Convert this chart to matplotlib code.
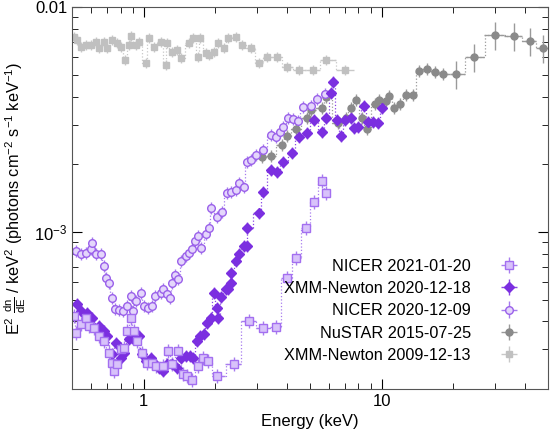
import matplotlib
matplotlib.use('Agg')
import numpy as np
import matplotlib.pyplot as plt
from matplotlib.ticker import NullFormatter, FixedLocator, LogLocator

plt.rcParams['font.family'] = ['Liberation Sans', 'DejaVu Sans']
plt.rcParams['mathtext.fontset'] = 'custom'
plt.rcParams['mathtext.rm'] = 'Liberation Sans'
plt.rcParams['mathtext.it'] = 'Liberation Sans'

# XMM-Newton 2009-12-13
xmm09_e = [0.508, 0.523, 0.544, 0.571, 0.599, 0.629, 0.647, 0.68, 0.699, 0.734, 0.77, 0.80, 0.832,
           0.865, 0.882, 0.925, 0.953, 1.02, 1.05, 1.10, 1.18, 1.24, 1.25, 1.31, 1.38, 1.44, 1.55,
           1.62, 1.70, 1.73, 1.82, 1.88, 1.97, 2.06, 2.17, 2.27, 2.44, 2.58, 2.82, 3.04, 3.29,
           3.62, 3.99, 4.52, 5.13, 5.87, 7.0]
xmm09_f = [7.36e-3, 7.13e-3, 6.64e-3, 6.78e-3, 6.78e-3, 6.98e-3, 6.57e-3, 6.98e-3, 6.57e-3, 7.13e-3,
           6.91e-3, 6.64e-3, 5.81e-3, 6.78e-3, 7.43e-3, 6.78e-3, 6.98e-3, 5.64e-3, 7.28e-3, 6.64e-3,
           6.98e-3, 5.52e-3, 6.91e-3, 6.31e-3, 6.44e-3, 5.93e-3, 6.91e-3, 7.28e-3, 6.0e-3, 7.28e-3,
           6.25e-3, 6.12e-3, 6.31e-3, 6.91e-3, 6.57e-3, 7.28e-3, 7.36e-3, 6.78e-3, 6.57e-3, 5.64e-3,
           6.0e-3, 6.0e-3, 5.41e-3, 5.25e-3, 5.25e-3, 5.81e-3, 5.25e-3]

# NuSTAR 2015-07-25
nu_e = [3.13, 3.42, 3.8, 3.99, 4.35, 4.84, 5.03, 5.6, 5.87, 6.53, 7.06, 7.42, 7.78, 8.24, 8.65,
        9.35, 9.8, 10.4, 10.8, 11.3, 12.0, 12.7, 13.6, 14.4, 15.5, 16.7, 18.2, 20.5, 24.4, 29.9,
        35.9, 41.9, 47.5]
nu_f = [2.15e-3, 2.18e-3, 2.44e-3, 2.67e-3, 2.87e-3, 3.21e-3, 3.48e-3, 3.56e-3, 3.98e-3, 3.05e-3,
        3.21e-3, 3.56e-3, 3.86e-3, 3.21e-3, 2.87e-3, 3.71e-3, 3.86e-3, 3.82e-3, 4.02e-3, 3.56e-3,
        3.71e-3, 4.06e-3, 4.06e-3, 5.2e-3, 5.3e-3, 5.14e-3, 5.04e-3, 5.04e-3, 6.0e-3, 7.51e-3,
        7.43e-3, 7.06e-3, 6.57e-3]

# NICER 2020-12-09
n09_e = [0.518, 0.544, 0.571, 0.599, 0.604, 0.629, 0.66, 0.68, 0.693, 0.713, 0.734, 0.755, 0.785,
         0.816, 0.849, 0.882, 0.899, 0.925, 0.971, 1.0, 1.04, 1.08, 1.12, 1.18, 1.21, 1.25, 1.29,
         1.31, 1.36, 1.40, 1.44, 1.50, 1.55, 1.59, 1.65, 1.70, 1.75, 1.82, 1.88, 1.91, 2.03, 2.13,
         2.23, 2.34, 2.44, 2.51, 2.63, 2.71, 2.82, 2.96, 3.16, 3.42, 3.59, 3.76, 3.87, 4.03, 4.23,
         4.44, 4.66, 5.03, 5.33, 5.77]
n09_f = [8.24e-4, 7.98e-4, 8.07e-4, 8.4e-4, 8.94e-4, 7.98e-4, 7.98e-4, 7.06e-4, 6.25e-4, 5.93e-4,
         5.09e-4, 4.55e-4, 4.5e-4, 4.46e-4, 4.69e-4, 5.2e-4, 4.46e-4, 4.93e-4, 5.36e-4, 4.69e-4,
         4.6e-4, 4.69e-4, 5.2e-4, 5.36e-4, 5.58e-4, 5.3e-4, 5.09e-4, 5.93e-4, 6.44e-4, 6.18e-4,
         7.43e-4, 7.82e-4, 8.07e-4, 8.4e-4, 9.12e-4, 9.6e-4, 8.49e-4, 9.8e-4, 1.04e-3, 1.28e-3,
         1.17e-3, 1.23e-3, 1.49e-3, 1.51e-3, 1.54e-3, 1.65e-3, 1.58e-3, 2.05e-3, 2.09e-3, 2.2e-3,
         2.31e-3, 2.7e-3, 2.64e-3, 2.78e-3, 2.93e-3, 3.21e-3, 3.18e-3, 3.11e-3, 3.59e-3, 3.63e-3,
         3.9e-3, 4.1e-3]

# XMM-Newton 2020-12-18
x20_e = [0.523, 0.544, 0.576, 0.604, 0.647, 0.68, 0.699, 0.734, 0.763, 0.80, 0.824, 0.865, 0.89,
         0.953, 0.98, 1.02, 1.07, 1.10, 1.16, 1.21, 1.25, 1.31, 1.38, 1.44, 1.50, 1.57, 1.62, 1.67,
         1.73, 1.79, 1.84, 1.91, 1.97, 2.03, 2.06, 2.11, 2.21, 2.27, 2.34, 2.34, 2.44, 2.51, 2.63,
         2.71, 2.71, 3.04, 3.19, 3.42, 3.62, 3.87, 4.19, 4.48, 4.84, 5.18, 5.6, 5.87, 6.16, 6.28,
         6.47, 6.73, 7.0, 7.42, 7.63, 8.0, 8.4, 8.8, 9.25, 9.7, 10.0]
x20_f = [4.79e-4, 4.46e-4, 4.37e-4, 4.15e-4, 3.82e-4, 3.63e-4, 3.45e-4, 2.87e-4, 3.21e-4, 2.75e-4,
         2.9e-4, 3.34e-4, 3.38e-4, 3.45e-4, 2.87e-4, 2.67e-4, 2.75e-4, 2.62e-4, 2.49e-4, 2.41e-4,
         2.59e-4, 2.59e-4, 2.49e-4, 2.75e-4, 2.81e-4, 2.81e-4, 2.75e-4, 3.28e-4, 3.45e-4, 3.52e-4,
         3.94e-4, 4.15e-4, 5.36e-4, 4.6e-4, 4.15e-4, 5.14e-4, 5.58e-4, 5.58e-4, 5.93e-4, 6.58e-4,
         7.43e-4, 7.98e-4, 8.67e-4, 8.67e-4, 1.04e-3, 1.21e-3, 1.51e-3, 1.89e-3, 1.85e-3, 2.05e-3,
         2.24e-3, 2.64e-3, 2.75e-3, 3.15e-3, 2.78e-3, 3.21e-3, 4.15e-3, 4.64e-3, 3.15e-3, 2.67e-3,
         3.15e-3, 3.21e-3, 2.9e-3, 2.93e-3, 3.63e-3, 3.08e-3, 3.08e-3, 3.05e-3, 3.56e-3]

# NICER 2021-01-20
n21_e = [0.508, 0.518, 0.544, 0.571, 0.588, 0.617, 0.647, 0.68, 0.713, 0.734, 0.748, 0.77, 0.80,
         0.824, 0.849, 0.882, 0.908, 0.935, 0.98, 1.03, 1.08, 1.13, 1.21, 1.27, 1.31, 1.40, 1.47,
         1.52, 1.59, 1.70, 1.77, 1.86, 2.03, 2.39, 2.76, 3.19, 3.59, 3.99, 4.39, 4.8, 5.18, 5.6, 5.87]
n21_f = [4.23e-4, 3.56e-4, 3.9e-4, 4.15e-4, 3.82e-4, 3.74e-4, 3.45e-4, 3.28e-4, 2.9e-4, 2.62e-4,
         2.41e-4, 2.59e-4, 3.02e-4, 3.05e-4, 3.63e-4, 4.15e-4, 3.63e-4, 3.28e-4, 2.9e-4, 2.62e-4,
         2.62e-4, 2.54e-4, 2.54e-4, 2.96e-4, 2.59e-4, 2.96e-4, 2.34e-4, 2.29e-4, 2.2e-4, 2.54e-4,
         2.75e-4, 2.67e-4, 2.29e-4, 2.59e-4, 4.02e-4, 3.74e-4, 3.78e-4, 6.25e-4, 7.66e-4, 1.04e-3,
         1.36e-3, 1.69e-3, 1.49e-3]


def half_widths(e):
    e = np.asarray(e)
    edges = np.sqrt(e[1:] * e[:-1])
    lo = np.concatenate([[e[0] ** 2 / edges[0]], edges])
    hi = np.concatenate([edges, [e[-1] ** 2 / edges[-1]]])
    return e - lo, hi - e


def draw(ax, e, f, marker, edge, face, ms, label, frac, line_col):
    e = np.asarray(e)
    f = np.asarray(f)
    xl, xh = half_widths(e)
    ax.plot(e, f, drawstyle='steps-mid', ls=':', lw=0.9, color=line_col, zorder=1)
    ax.errorbar(e, f, xerr=[xl, xh], yerr=f * frac, fmt=marker, ms=ms, mfc=face, mec=edge,
                ecolor=line_col, elinewidth=1.0, capsize=0, mew=1.0, label=label, zorder=2)


fig = plt.figure(figsize=(5.5, 4.42), dpi=100)
ax = fig.add_axes([0.131, 0.12, 0.865, 0.864])

draw(ax, xmm09_e, xmm09_f, 's', '#c0c0c0', '#c0c0c0', 5, 'XMM-Newton 2009-12-13', 0.05, '#c8c8c8')
nu_frac = np.where(np.asarray(nu_e) > 20, 0.14, 0.06)
draw(ax, nu_e, nu_f, 'o', '#8a8a8a', '#8a8a8a', 5, 'NuSTAR 2015-07-25', nu_frac, '#9a9a9a')
draw(ax, n09_e, n09_f, 'o', '#9a60ea', '#e4d6fb', 5.5, 'NICER 2020-12-09', 0.06, '#a57aee')
draw(ax, x20_e, x20_f, 'D', '#7b2fe0', '#7b2fe0', 5, 'XMM-Newton 2020-12-18', 0.06, '#8a45e6')
draw(ax, n21_e, n21_f, 's', '#a36ff0', '#d8c2fa', 5.5, 'NICER 2021-01-20', 0.07, '#a87cef')

ax.set_xscale('log')
ax.set_yscale('log')
ax.set_xlim(0.5, 50)
ax.set_ylim(2e-4, 1e-2)
ax.set_xticks([1, 10])
ax.set_xticklabels(['1', '10'])
ax.xaxis.set_minor_formatter(NullFormatter())
ax.yaxis.set_major_locator(FixedLocator([1e-3, 1e-2]))
ax.set_yticklabels(['$10^{-3}$', '0.01'])
ax.yaxis.set_minor_locator(LogLocator(subs=np.arange(2, 10)))
ax.yaxis.set_minor_formatter(NullFormatter())
ax.tick_params(which='both', direction='in', top=True, right=True, labelsize=12)
ax.tick_params(which='major', length=7)
ax.tick_params(which='minor', length=4)
for s in ax.spines.values():
    s.set_color('#555555')

ax.set_xlabel('Energy (keV)', fontsize=12)
ax.set_ylabel(r'E$^2$ $\frac{\mathrm{dn}}{\mathrm{dE}}$ / keV$^2$ (photons cm$^{-2}$ s$^{-1}$ keV$^{-1}$)',
              fontsize=11.7, labelpad=4)

h, l = ax.get_legend_handles_labels()
ax.legend(h[::-1], l[::-1], loc='lower right', bbox_to_anchor=(0.975, 0.03), frameon=False,
          markerfirst=False, fontsize=11.7, handlelength=1.5, labelspacing=0.45, handletextpad=1.6)

fig.savefig('out.png', dpi=100)
